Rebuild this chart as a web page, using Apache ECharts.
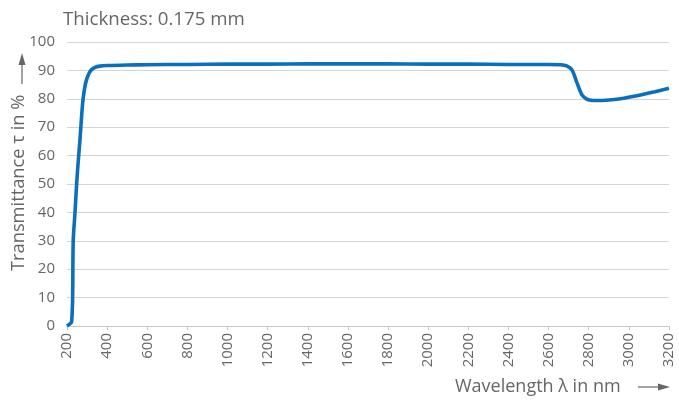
<!DOCTYPE html>
<html>
<head>
<meta charset="utf-8">
<script src="https://cdn.jsdelivr.net/npm/echarts@6/dist/echarts.min.js"></script>
<style>html,body{margin:0;padding:0;background:#fff}#c{width:679px;height:400px}</style>
</head>
<body>
<div id="c"></div>
<script>
var titleText = 'Thickness: 0.175 mm';
var xName = 'Wavelength λ in nm';
var yName = 'Transmittance τ in %';
var wavelength = [200, 215, 223, 228, 231, 240, 248, 256, 265, 272, 278, 285, 292, 300, 310, 320, 340, 365, 400, 500, 600, 800, 1000, 1200, 1400, 1600, 1800, 2000, 2200, 2400, 2600, 2660, 2690, 2717, 2742, 2767, 2790, 2810, 2842, 2900, 2975, 3058, 3130, 3200];
var transmittance = [0, 0.8, 1.5, 10, 30, 40, 50, 58, 66, 73, 78.5, 82.5, 85.3, 87.3, 89, 90.1, 91.1, 91.5, 91.7, 91.9, 92.0, 92.1, 92.2, 92.2, 92.3, 92.3, 92.3, 92.2, 92.2, 92.1, 92.1, 92.0, 91.6, 90.1, 85.5, 81.3, 79.9, 79.5, 79.4, 79.6, 80.2, 81.3, 82.5, 83.7];

var font = 'Open Sans';
var grey = '#666';
var chart = echarts.init(document.getElementById('c'));
chart.setOption({
  animation: false,
  grid: {left: 67, right: 10, top: 42, bottom: 74},
  xAxis: {
    type: 'value', min: 200, max: 3200, interval: 200,
    axisLine: {show: true, lineStyle: {color: '#c8c8c8'}},
    axisTick: {show: true, length: 4, lineStyle: {color: '#c8c8c8'}},
    splitLine: {show: false},
    axisLabel: {rotate: 90, color: grey, fontFamily: font, fontSize: 15, margin: 7,
      formatter: function (v) { return String(v); }}
  },
  yAxis: {
    type: 'value', min: 0, max: 100, interval: 10,
    axisLine: {show: false}, axisTick: {show: false},
    splitLine: {lineStyle: {color: '#d4d4d4'}},
    axisLabel: {color: grey, fontFamily: font, fontSize: 15, margin: 12}
  },
  series: [{
    type: 'line',
    data: wavelength.map(function (w, i) { return [w, transmittance[i]]; }),
    showSymbol: false,
    smooth: 0.3,
    lineStyle: {color: '#0a70bd', width: 3.6},
    itemStyle: {color: '#0a70bd'}
  }],
  graphic: [
    {type: 'text', x: 63, y: 20, style: {text: titleText, fill: grey, font: '18.7px "' + font + '"', textVerticalAlign: 'middle'}},
    {type: 'text', x: 455, y: 387, style: {text: xName, fill: grey, font: '18px "' + font + '"', textVerticalAlign: 'middle'}},
    {type: 'line', shape: {x1: 638, y1: 387, x2: 660, y2: 387}, style: {stroke: grey, lineWidth: 1.2}},
    {type: 'polygon', shape: {points: [[658, 383.5], [670, 387], [658, 390.5]]}, style: {fill: grey}},
    {type: 'text', x: 19, y: 271, rotation: Math.PI / 2, style: {text: yName, fill: grey, font: '18.3px "' + font + '"', textVerticalAlign: 'middle'}},
    {type: 'line', shape: {x1: 22, y1: 84, x2: 22, y2: 62}, style: {stroke: grey, lineWidth: 1.2}},
    {type: 'polygon', shape: {points: [[18.5, 65], [22, 53], [25.5, 65]]}, style: {fill: grey}}
  ]
});
</script>
</body>
</html>
